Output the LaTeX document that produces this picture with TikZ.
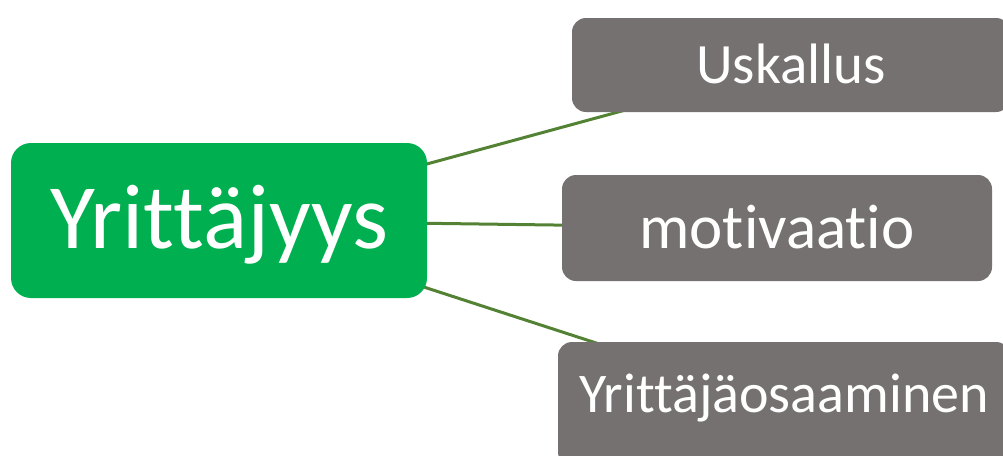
\documentclass[tikz,border=0pt]{standalone}
\usepackage{fontspec}
\setmainfont[Ligatures=NoCommon]{Carlito}
\usetikzlibrary{backgrounds}
\definecolor{leafgreen}{HTML}{00B050}
\definecolor{stonegray}{HTML}{767171}
\definecolor{twiggreen}{HTML}{548235}

\begin{document}
\begin{tikzpicture}[x=1pt,y=-1pt,
  rootnode/.style={rectangle,rounded corners=20pt,fill=leafgreen,text=white,
    minimum width=416pt,minimum height=155pt,inner sep=0pt,
    font=\fontsize{92}{95}\selectfont,text height=57pt,text depth=2pt},
  leafnode/.style={rectangle,rounded corners=14pt,fill=stonegray,text=white,
    inner sep=0pt,font=\fontsize{57}{60}\selectfont,text height=38pt,text depth=2pt},
  twig/.style={draw=twiggreen,line width=3pt}]
\useasboundingbox (0,0) rectangle (1003,455);
\node [rootnode] (yrittajyys) at (219,220.5) {Yrittäjyys};
\node [leafnode,minimum width=438pt,minimum height=94pt] (uskallus) at (791,65) {Uskallus};
\node [leafnode,minimum width=430pt,minimum height=106pt,font=\fontsize{63}{66}\selectfont,text height=42pt] (motivaatio) at (777,228) {motivaatio};
\node [leafnode,minimum width=452pt,minimum height=124pt,text depth=22pt,font=\fontsize{56}{59}\selectfont] (osaaminen) at (784,404) {Yrittäjäosaaminen};
\begin{scope}[on background layer]
  \foreach \leaf in {uskallus,motivaatio,osaaminen}
  {  \draw [twig] (yrittajyys.center) -- (\leaf.center);}
\end{scope}
\end{tikzpicture}
\end{document}
